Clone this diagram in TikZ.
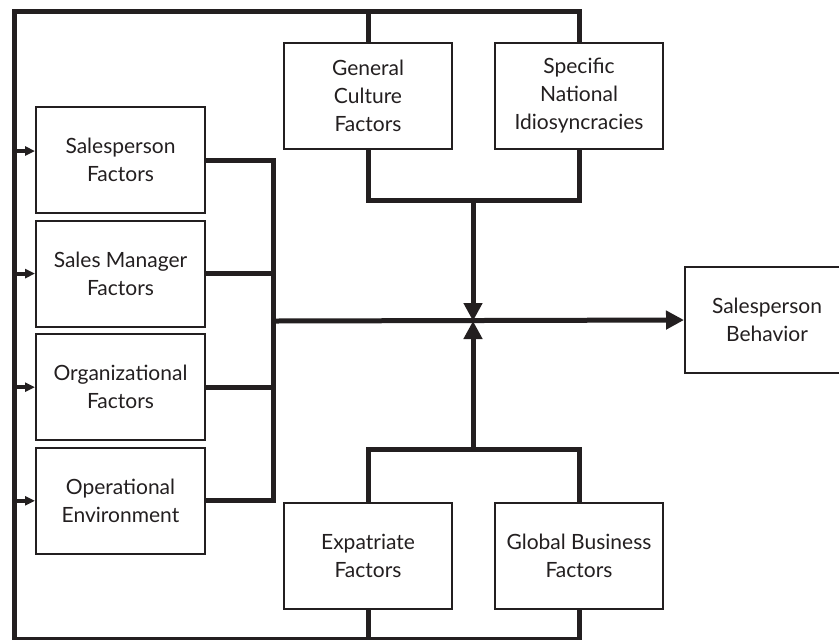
\documentclass[tikz,border=0pt]{standalone}
\usepackage{fontspec}
\setmainfont{Lato}
\usepackage{xcolor}
\usetikzlibrary{arrows.meta,calc,positioning}
\definecolor{ink}{HTML}{231F20}

\begin{document}
\begin{tikzpicture}[x=0.5pt, y=-0.5pt, arrow/.style = {bus,-{Triangle[length=9pt,width=9pt]}}]
		\tikzset{box/.style={draw=ink,line width=1pt,rectangle,inner sep=0pt,align=center,fill=white,font=\fontsize{10.5}{14}\selectfont,text=ink,minimum width=84.5pt,minimum height=53pt}}
		\tikzset{bus/.style={draw=ink,line width=2.5pt}}
		\tikzset{feed/.style={draw=ink,line width=2pt,-{Triangle[length=5pt,width=4.5pt]}}}

		\clip (0,0) rectangle (839,639);
		\fill[white] (0,0) rectangle (839,639);

		% Left boxes
		\node[box] (spf) at (120.5,160) {Salesperson\\Factors};
		\node[box, below=2.8pt of spf] (smf) {Sales Manager\\Factors};
		\node[box, below=2.8pt of smf] (orf) {Organizational\\Factors};
		\node[box, below=2.8pt of orf] (ope) {Operational\\Environment};

		% Culture boxes
		\node[box, minimum width=84pt] (gcf) at (368,96) {General\\Culture\\Factors};
		\node[box, minimum width=84pt, right=20.5pt of gcf] (sni) {Specific\\National\\Idiosyncracies};

		% Business boxes
		\node[box, minimum width=84pt] (exf) at (368,556) {Expatriate\\Factors};
		\node[box, minimum width=84pt, right=20.5pt of exf] (gbf) {Global Business\\Factors};

		% Outcome
		\node[box, minimum width=82pt, anchor=west] (spb) at (684,320) {Salesperson\\Behavior};

		% Junctions
		\coordinate (tl) at (14,11);
		\coordinate (bl) at (14,639.5);
		\coordinate (jn) at (273,321);
		\coordinate (hub) at (473,321);
		\coordinate (tj) at (473,200);
		\coordinate (bj) at (473,449);

		% Feedback loop
		\draw [bus] (sni.north) |- (tl) -- (bl) -| (gbf.south);
		\draw [bus] (gcf.north) -- (gcf.north |- tl);
		\draw [bus] (exf.south) -- (exf.south |- bl);

		\draw [feed] ($(spf.west -| tl)+(0,-9)$) -- ($(spf.west)+(0,-9)$);
		\draw [feed] (smf.west -| tl) -- (smf.west);
		\draw [feed] (orf.west -| tl) -- (orf.west);
		\draw [feed] (ope.west -| tl) -- (ope.west);

		% Arrows
		\draw [bus] (spf.east) -| (ope.east -| jn) -- (ope.east);
		\draw [bus] (smf.east) -- (smf.east -| jn);
		\draw [bus] (orf.east) -- (orf.east -| jn);
		\draw [arrow] (jn) -- (spb.west);

		\draw [bus] (gcf.south) |- (tj) -| (sni.south);
		\draw [arrow] (tj) -- (hub);
		\draw [bus] (exf.north) |- (bj) -| (gbf.north);
		\draw [arrow] (bj) -- (hub);

	\end{tikzpicture}
\end{document}
